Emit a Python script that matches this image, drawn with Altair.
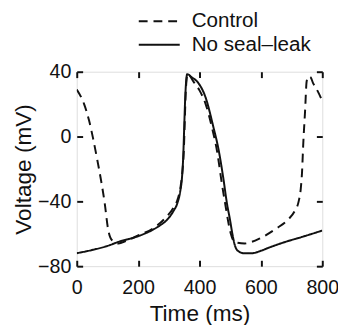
import altair as alt
import pandas as pd

series = ["Control", "No seal–leak"]

# Control (dashed) trace: time (ms), voltage (mV)
ctrl_t = [0, 24, 40, 53, 67, 81, 91, 102, 115, 136, 160, 200, 250, 290, 315, 330, 339,
          345, 349, 352, 355, 358, 361, 366, 380, 400, 420, 440, 458, 472, 485, 493, 502, 510,
          522, 547, 570, 595, 648, 690, 710, 723, 730, 734, 738, 744, 749, 755, 762, 770,
          785, 800]
ctrl_v = [29, 20, 10, -1, -14.5, -29, -41, -57, -64, -66, -64.5, -61, -56.5, -50, -44, -38, -30,
          -20, -8, 10, 27, 35.5, 38.5, 38, 34, 28.5, 20, 6, -10, -28, -43, -52, -60, -64,
          -65.5, -66, -65, -63, -57, -51, -46, -40, -32, -22, -4.5, 16, 34, 37, 36.5, 33,
          28, 22]

# No seal-leak (solid) trace
nsl_t = [0, 50, 100, 136, 200, 243, 270, 296, 315, 328, 337, 343, 347, 350, 353, 356, 360,
         375, 392, 420, 445, 462, 477, 490, 499, 507, 515, 525, 545, 570, 600, 627, 680, 733, 800]
nsl_v = [-72, -70, -67.5, -65, -61.5, -58, -55, -51, -46, -41, -34, -25, -12, 5, 22, 33, 38.5,
         36.5, 34, 24, 6, -8, -25, -42, -51, -60, -67, -70.5, -72, -72, -70.5, -68.5, -65, -62, -58]

x_ticks = [0, 200, 400, 600, 800]
y_ticks = [-80, -40, 0, 40]

df = pd.concat([
    pd.DataFrame({"t": ctrl_t, "v": ctrl_v, "s": series[0]}),
    pd.DataFrame({"t": nsl_t, "v": nsl_v, "s": series[1]}),
], ignore_index=True)

FONT = "Liberation Sans"
INK = "#111111"
W, H = 250, 198

xscale = alt.Scale(domain=[0, 800], nice=False, zero=False)
yscale = alt.Scale(domain=[-80, 40], nice=False, zero=False)

tick_only = dict(domain=False, ticks=True, tickSize=6, tickWidth=2, tickColor=INK,
                 labels=False, title="", grid=False)

base = alt.Chart(df)

lines = base.mark_line(strokeWidth=2, interpolate="monotone", clip=True).encode(
    x=alt.X("t:Q", scale=xscale,
            axis=alt.Axis(orient="bottom", values=x_ticks, title="Time (ms)", domain=False,
                          ticks=False, grid=False, labelFlush=False,
                          labelFont=FONT, labelFontSize=20, labelColor=INK, labelPadding=12,
                          titleFont=FONT, titleFontSize=23, titleFontWeight="normal",
                          titleColor=INK, titlePadding=5)),
    y=alt.Y("v:Q", scale=yscale,
            axis=alt.Axis(orient="left", values=y_ticks, title="Voltage (mV)", domain=False,
                          ticks=False, grid=False, labelFlush=False,
                          labelFont=FONT, labelFontSize=20, labelColor=INK, labelPadding=6,
                          labelExpr="replace(datum.label, '-', '−')",
                          titleFont=FONT, titleFontSize=23, titleFontWeight="normal",
                          titleColor=INK, titlePadding=2)),
    strokeDash=alt.StrokeDash(
        "s:N",
        scale=alt.Scale(domain=series, range=[[9, 6], [1, 0]]),
        legend=alt.Legend(orient="none", legendX=62, legendY=-63.5, title=None,
                          symbolType="stroke", symbolSize=1740, symbolStrokeWidth=2,
                          symbolStrokeColor=INK, labelFont=FONT, labelFontSize=21,
                          labelColor=INK, labelOffset=11, clipHeight=24, rowPadding=0,
                          padding=0),
    ),
    color=alt.value(INK),
)

# inward ticks on the bottom and left edges (opposite orient, shifted across the plot)
inner_a = base.mark_line(opacity=0).encode(
    x=alt.X("t:Q", scale=xscale,
            axis=alt.Axis(orient="top", values=x_ticks, offset=-H, **tick_only)),
    y=alt.Y("v:Q", scale=yscale,
            axis=alt.Axis(orient="right", values=y_ticks, offset=-W, **tick_only)),
    detail="s:N",
)
# inward ticks on the top and right edges
inner_b = base.mark_line(opacity=0).encode(
    x=alt.X("t:Q", scale=xscale,
            axis=alt.Axis(orient="bottom", values=x_ticks, offset=-H, **tick_only)),
    y=alt.Y("v:Q", scale=yscale,
            axis=alt.Axis(orient="left", values=y_ticks, offset=-W, **tick_only)),
    detail="s:N",
)

chart = alt.layer(lines, inner_a, inner_b).resolve_axis(x="independent", y="independent").properties(
    width=W, height=H,
    autosize=alt.AutoSizeParams(type="none"),
    padding={"left": 70, "top": 62, "right": 16, "bottom": 57},
).configure_view(stroke=INK, strokeWidth=2).configure(background="white")

chart.save("out.html", embed_options={"renderer": "svg", "actions": False})
